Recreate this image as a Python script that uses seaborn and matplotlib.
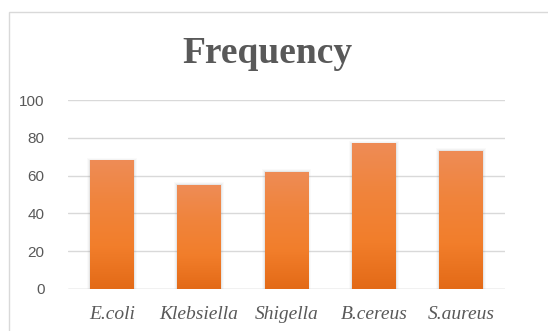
import matplotlib
matplotlib.use("Agg")
import matplotlib.pyplot as plt
import numpy as np
import pandas as pd
import seaborn as sns
from matplotlib.colors import LinearSegmentedColormap
from matplotlib.patches import Rectangle

# Data
organisms = ["E.coli", "Klebsiella", "Shigella", "B.cereus", "S.aureus"]
frequency = [68, 55, 62, 77, 73]
y_ticks = [0, 20, 40, 60, 80, 100]

df = pd.DataFrame({"organism": organisms, "frequency": frequency})

sns.set_theme(style="white")
plt.rcParams["font.family"] = ["Liberation Sans", "DejaVu Sans"]

fig = plt.figure(figsize=(5.48, 3.31), dpi=100)
fig.patch.set_facecolor("white")

# Chart-area frame (runs off the right and bottom edges)
fig.patches.append(Rectangle((9 / 548, -0.1), 1.2, 1 - 12 / 331 + 0.1,
                             transform=fig.transFigure, fill=False,
                             edgecolor="#D9D9D9", linewidth=1.0, zorder=0))

ax = fig.add_axes([68 / 548, 1 - 289 / 331, (505 - 68) / 548, (289 - 100) / 331])

sns.barplot(data=df, x="organism", y="frequency", ax=ax, width=0.5,
            color="#F07F2A", saturation=1, linewidth=0, zorder=3)

# Vertical orange gradient inside each bar
grad_cmap = LinearSegmentedColormap.from_list(
    "bar_grad", ["#E36A17", "#F27E2B", "#F0843C", "#EE8C56"])
grad = np.linspace(0, 1, 256).reshape(-1, 1)
for patch in ax.patches:
    x0, y0 = patch.get_x(), patch.get_y()
    w, h = patch.get_width(), patch.get_height()
    im = ax.imshow(grad, cmap=grad_cmap, origin="lower", aspect="auto",
                   extent=(x0, x0 + w, y0, y0 + h), zorder=4)
    im.set_clip_path(patch)
    # faint soft shadow around the bar
    for k, a in enumerate([0.10, 0.06, 0.03]):
        d = 0.012 * (k + 1)
        ax.add_patch(Rectangle((x0 - d, y0), w + 2 * d, h + d * 40,
                               facecolor="#7F7F7F", alpha=a, edgecolor="none",
                               zorder=2.5))

ax.set_xlim(-0.5, len(organisms) - 0.5)
ax.set_ylim(0, 100)
ax.set_yticks(y_ticks)
ax.set_yticklabels([str(t) for t in y_ticks], fontsize=11, color="#595959")
ax.set_xticks(range(len(organisms)))
ax.set_xticklabels(organisms, fontsize=14, color="#595959",
                   family="Liberation Serif", style="italic")
ax.tick_params(axis="both", length=0)
ax.tick_params(axis="y", pad=17)
ax.tick_params(axis="x", pad=12)
ax.set_xlabel("")
ax.set_ylabel("")

ax.grid(axis="y", color="#D9D9D9", linewidth=1.0, zorder=0)
ax.set_axisbelow(True)
for s in ax.spines.values():
    s.set_visible(False)
ax.axhline(0, color="#D9D9D9", linewidth=1.0, zorder=1)
ax.set_facecolor("none")

fig.text(267 / 548, 1 - 63 / 331, "Frequency", ha="center", va="baseline",
         fontsize=27, fontweight="bold", family="Liberation Serif",
         color="#595959")

fig.savefig("out.png", dpi=100, facecolor="white")
